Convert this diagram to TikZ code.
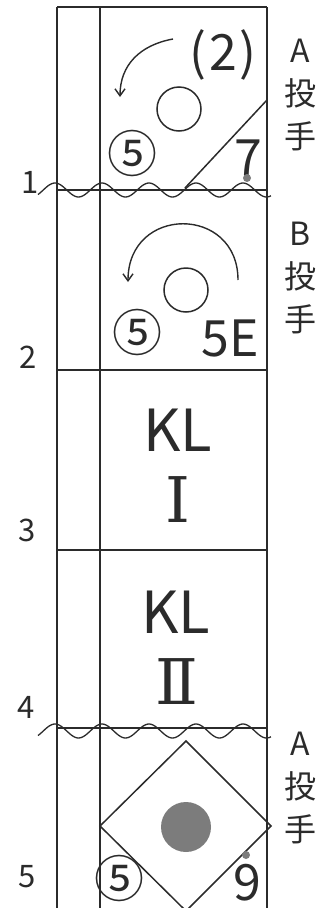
\documentclass[tikz,border=0pt]{standalone}
\usepackage{fontspec}
\setmainfont{Noto Sans CJK JP}
\newfontfamily\romanfont{DejaVu Serif}
\usetikzlibrary{arrows.meta}

\begin{document}
\begin{tikzpicture}[
    x=1pt, y=-1pt,
    every node/.style={inner sep=0pt},
]

% ---------------------------------------------------------------- colours
\definecolor{ink}{HTML}{2B2B2B}       % rules, arrows, text
\definecolor{dotgray}{HTML}{7C7C7C}   % the filled spots

% ================================================================
% Geometry, in pixels of the sheet (y runs downwards).
%
%   columns  x = 57 (left rule), 100 (middle rule), 267 (right rule)
%   rows     y = 7 (top), 190, 370, 550, 728, open at the bottom
%   breaks   wavy lines across rows 1 and 4, period 47 (7.66 deg/px),
%            amplitude 7
%   numbers on the left at x ~ 28, pitcher labels on the right at x = 300
% ================================================================

\def\xl{57}
\def\xm{100}
\def\xr{267}
\def\ytop{7}

\tikzset{
    rule/.style={draw=ink, line width=1.5pt},
    wave/.style={draw=ink, line width=1.3pt},
    turn/.style={draw=ink, line width=1.4pt,
        -{Straight Barb[length=7pt, width=10pt]}},
    rownum/.style={font=\fontsize{31}{31}\selectfont, text=ink},
    side/.style={font=\fontsize{32}{43}\selectfont, text=ink, align=center},
    big/.style={font=\fontsize{58}{58}\selectfont, text=ink},
    roman/.style={font=\romanfont\fontsize{63}{63}\selectfont, text=ink},
    mid/.style={font=\fontsize{50}{50}\selectfont, text=ink},
    circnum/.style={font=\fontsize{50}{50}\selectfont, text=ink},
    ball/.style={circle, draw=ink, line width=1.5pt, minimum size=44pt},
    spot/.style={circle, fill=dotgray, minimum size=8pt},
}

\useasboundingbox (0,0) rectangle (322,908);

% ================================================================ grid
\foreach \x in {\xl,\xm,\xr}
    \draw[rule] (\x,\ytop) -- (\x,908);
\foreach \y in {\ytop,190,370,550,728}
    \draw[rule] (\xl,\y) -- (\xr,\y);

% breaks
\foreach \y in {190,731}
    \draw[wave] plot[domain=38:271, samples=120, smooth]
        (\x, {\y - 7*sin((\x-43.25)*7.66)});

% ================================================================ labels
\foreach \n/\x/\y in {1/30/182, 2/28/357, 3/27/530, 4/26/707, 5/27/877}
    \node[rownum] (row\n) at (\x,\y) {\n};

\node[side] (pitcherA)  at (300,95)  {A\\投\\手};
\node[side] (pitcherB)  at (300,278) {B\\投\\手};
\node[side] (pitcherA2) at (300,788) {A\\投\\手};

% ================================================================ row 1
\node[mid]     (countA) at (223,55)  {(\kern3pt2\kern3pt)};
\node[ball]    (ballA)  at (179,109) {};
\node[circnum] (fiveA)  at (132,153) {⑤};
\node[mid]     (sevenA) at (248,158) {7};
\node[spot]    (spotA)  at (247,178) {};
\draw[rule] (185,188) -- (267,100);
\draw[turn] (173,39) .. controls (140,45) and (120,65) .. (120,97);

% ================================================================ row 2
\draw[turn] (238,280) .. controls (238,205) and (128,205) .. (128,282);
\node[ball]    (ballB)  at (186,290) {};
\node[circnum] (fiveB)  at (137,332) {⑤};
\node[mid]     (codeB)  at (230,338) {5E};

% ================================================================ rows 3, 4
\node[big]   (klOne)  at (178,430) {KL};
\node[roman] (romOne) at (178,500) {Ⅰ};
\node[big]   (klTwo)  at (176,612) {KL};
\node[roman] (romTwo) at (177,682) {Ⅱ};

% ================================================================ row 5
\draw[rule] (186,741) -- (271,826) -- (186,911) -- (100,826) -- cycle;
\node[spot, minimum size=50pt] (plate) at (186,827) {};
\node[spot]    (spotC)  at (246,855) {};
\node[circnum] (fiveC)  at (119,878) {⑤};
\node[mid]     (nineC)  at (247,883) {9};

\end{tikzpicture}
\end{document}
